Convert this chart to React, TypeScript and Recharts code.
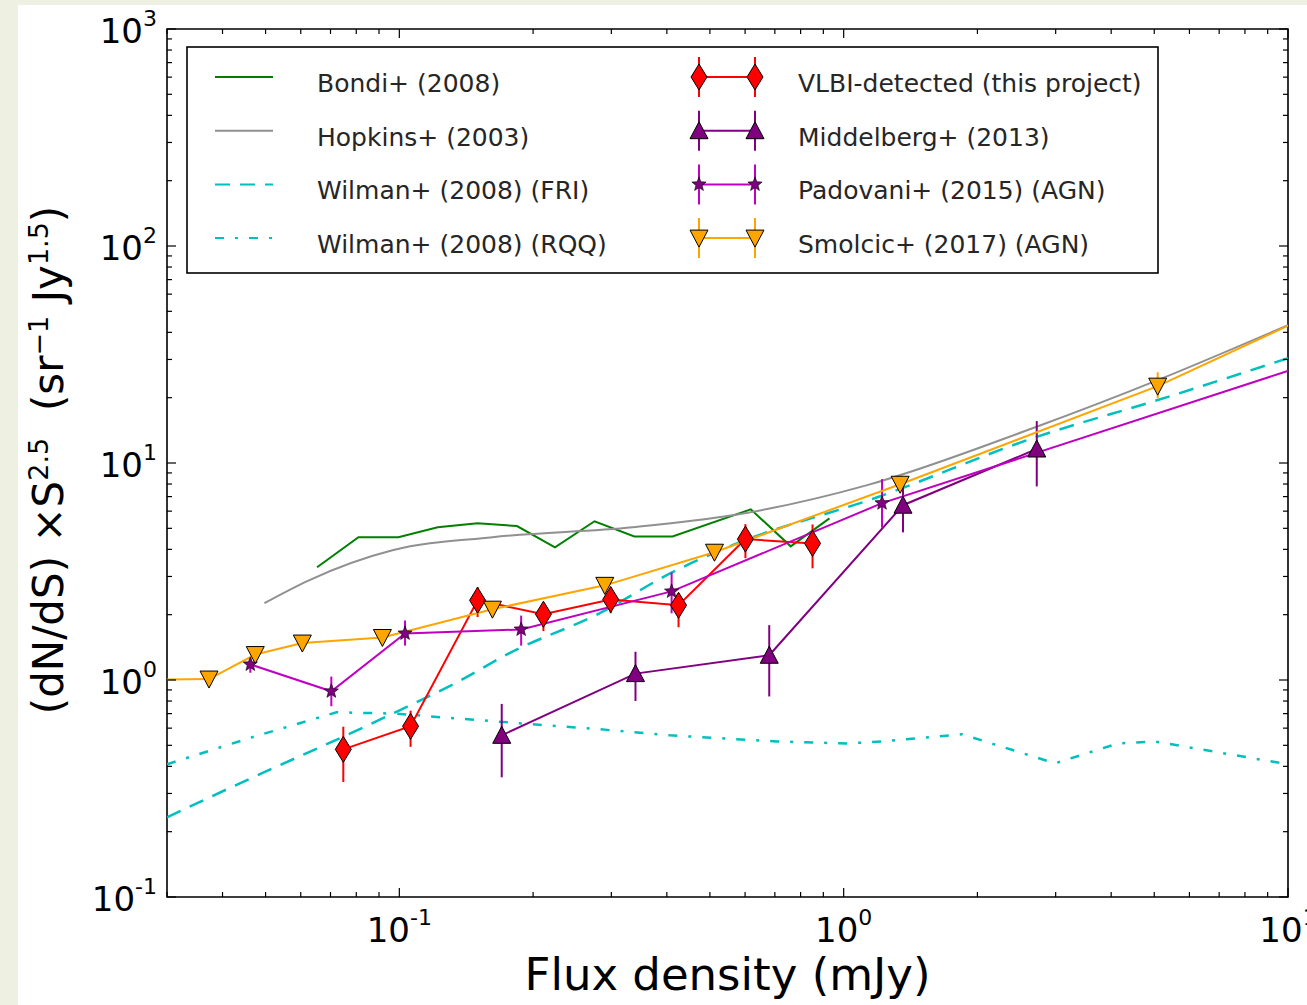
import React from 'react';
import { ComposedChart, Line, XAxis, YAxis, ErrorBar, ReferenceArea } from 'recharts';

const W = 1307;
const H = 1005;
const PLOT = { left: 167, top: 29, right: 1288, bottom: 897 };
const FONT = '"DejaVu Sans", sans-serif';

// --- model curves (flux mJy, normalised counts) ---
const bondiX = [0.0653, 0.0809, 0.0995, 0.122, 0.15, 0.184, 0.224, 0.275, 0.338, 0.412, 0.618, 0.76, 0.929];
const bondiY = [3.31, 4.55, 4.55, 5.06, 5.27, 5.12, 4.09, 5.39, 4.59, 4.59, 6.12, 4.13, 5.56];

const hopkinsX = [0.0497, 0.0626, 0.0965, 0.162, 0.335, 0.562, 1.13, 2.67, 5.09, 10];
const hopkinsY = [2.26, 2.88, 3.96, 4.55, 5.06, 5.74, 7.91, 14.5, 24.1, 43.2];

const friX = [0.03, 0.0418, 0.0916, 0.136, 0.177, 0.282, 0.412, 0.562, 1.19, 2.72, 5.09, 10];
const friY = [0.233, 0.32, 0.665, 0.986, 1.33, 2.03, 3.14, 4.18, 6.95, 13.2, 19.5, 30.4];

const rqqX = [0.03, 0.046, 0.0722, 0.0975, 0.125, 0.162, 0.282, 0.406, 0.706, 1.02, 1.22, 1.85, 2.99, 4.14, 5.01, 10];
const rqqY = [0.409, 0.54, 0.71, 0.7, 0.673, 0.646, 0.593, 0.556, 0.521, 0.51, 0.521, 0.562, 0.413, 0.51, 0.521, 0.409];

// --- measured counts with asymmetric errors [low, high] ---
const vlbiX = [0.0748, 0.106, 0.15, 0.211, 0.299, 0.425, 0.601, 0.851];
const vlbiY = [0.479, 0.612, 2.33, 2.01, 2.35, 2.21, 4.46, 4.26];
const vlbiLo = [0.14, 0.12, 0.38, 0.33, 0.32, 0.46, 0.82, 0.99];
const vlbiHi = [0.13, 0.11, 0.35, 0.23, 0.29, 0.3, 0.77, 0.95];

const midX = [0.17, 0.34, 0.68, 1.36, 2.72];
const midY = [0.556, 1.07, 1.3, 6.39, 11.6];
const midLo = [0.2, 0.27, 0.46, 1.6, 3.8];
const midHi = [0.22, 0.28, 0.49, 2.1, 4.0];

const padX = [0.0462, 0.0703, 0.103, 0.188, 0.41, 1.22, 12];
const padY = [1.18, 0.887, 1.64, 1.71, 2.56, 6.53, 30];
const padLo = [0.1, 0.13, 0.2, 0.27, 0.53, 1.5, 0];
const padHi = [0.09, 0.15, 0.24, 0.27, 0.57, 1.9, 0];

const smoX = [0.025, 0.0373, 0.0474, 0.0605, 0.0916, 0.162, 0.29, 0.512, 1.34, 5.09, 12];
const smoY = [1.0, 1.01, 1.31, 1.48, 1.57, 2.12, 2.73, 3.88, 7.98, 22.6, 51];
const smoLo = [0, 0.06, 0.08, 0.09, 0.1, 0.15, 0.2, 0.3, 0.7, 2.7, 0];
const smoHi = [0, 0.06, 0.09, 0.1, 0.11, 0.17, 0.22, 0.34, 0.8, 3.6, 0];

// --- ticks ---
const X_MAJOR = [0.1, 1, 10];
const X_MINOR = [0.03, 0.04, 0.05, 0.06, 0.07, 0.08, 0.09, 0.2, 0.3, 0.4, 0.5, 0.6, 0.7, 0.8, 0.9, 2, 3, 4, 5, 6, 7, 8, 9];
const Y_MAJOR = [0.1, 1, 10, 100, 1000];
const Y_MINOR = [0.2, 0.3, 0.4, 0.5, 0.6, 0.7, 0.8, 0.9, 2, 3, 4, 5, 6, 7, 8, 9, 20, 30, 40, 50, 60, 70, 80, 90, 200, 300, 400, 500, 600, 700, 800, 900];

const pts = (xs: number[], ys: number[]) => xs.map((x, i) => ({ x, y: ys[i] }));
const ptsErr = (xs: number[], ys: number[], lo: number[], hi: number[]) =>
  xs.map((x, i) => ({ x, y: ys[i], err: [lo[i], hi[i]] }));

const bondi = pts(bondiX, bondiY);
const hopkins = pts(hopkinsX, hopkinsY);
const fri = pts(friX, friY);
const rqq = pts(rqqX, rqqY);
const vlbi = ptsErr(vlbiX, vlbiY, vlbiLo, vlbiHi);
const mid = ptsErr(midX, midY, midLo, midHi);
const pad = ptsErr(padX, padY, padLo, padHi);
const smo = ptsErr(smoX, smoY, smoLo, smoHi);

const RED = '#ff0000';
const PURPLE = '#800080';
const MAGENTA = '#c000c0';
const ORANGE = '#ffa500';
const CYAN = '#00bfbf';
const FRI_DASH = '15 10';
const RQQ_DASH = '9 11 3 11';

// --- marker shapes ---
function diamond(cx: number, cy: number, key?: any) {
  return (
    <polygon key={key} points={`${cx},${cy - 13} ${cx + 8},${cy} ${cx},${cy + 13} ${cx - 8},${cy}`}
      fill={RED} stroke="#000" strokeWidth={1} />
  );
}
function triUp(cx: number, cy: number, key?: any) {
  return (
    <polygon key={key} points={`${cx},${cy - 9} ${cx + 9},${cy + 8} ${cx - 9},${cy + 8}`}
      fill={PURPLE} stroke="#000" strokeWidth={1} />
  );
}
function triDown(cx: number, cy: number, key?: any) {
  return (
    <polygon key={key} points={`${cx},${cy + 9} ${cx + 9},${cy - 8} ${cx - 9},${cy - 8}`}
      fill={ORANGE} stroke="#000" strokeWidth={1} />
  );
}
function star(cx: number, cy: number, key?: any) {
  const p: string[] = [];
  for (let i = 0; i < 10; i++) {
    const r = i % 2 === 0 ? 7.5 : 3.2;
    const a = -Math.PI / 2 + (i * Math.PI) / 5;
    p.push(`${cx + r * Math.cos(a)},${cy + r * Math.sin(a)}`);
  }
  return <polygon key={key} points={p.join(' ')} fill={PURPLE} stroke="#000" strokeWidth={0.6} />;
}

const dotOf = (shape: (cx: number, cy: number, key?: any) => React.ReactElement) => (p: any) => {
  if (p.cx == null || p.cy == null) return <g key={`e-${p.index}`} />;
  return shape(p.cx, p.cy, `m-${p.index}`);
};

// --- tick renderers ---
const expLabel = (v: number) => {
  const e = Math.round(Math.log10(v));
  return e < 0 ? `-${-e}` : `${e}`;
};

const renderXTick = (props: any) => {
  const { x, payload } = props;
  const v = payload.value;
  const major = X_MAJOR.includes(v);
  const len = major ? 9 : 5;
  return (
    <g>
      <line x1={x} x2={x} y1={PLOT.bottom} y2={PLOT.bottom - len} stroke="#000" strokeWidth={1.2} />
      <line x1={x} x2={x} y1={PLOT.top} y2={PLOT.top + len} stroke="#000" strokeWidth={1.2} />
      {major && (
        <text x={x} y={PLOT.bottom + 45} textAnchor="middle" fontSize={34} fontFamily={FONT} fill="#000">
          10<tspan dy={-17} fontSize={22}>{expLabel(v)}</tspan>
        </text>
      )}
    </g>
  );
};

const renderYTick = (props: any) => {
  const { y, payload } = props;
  const v = payload.value;
  const major = Y_MAJOR.includes(v);
  const len = major ? 9 : 5;
  return (
    <g>
      <line x1={PLOT.left} x2={PLOT.left + len} y1={y} y2={y} stroke="#000" strokeWidth={1.2} />
      <line x1={PLOT.right} x2={PLOT.right - len} y1={y} y2={y} stroke="#000" strokeWidth={1.2} />
      {major && (
        <text x={157} y={y + 14} textAnchor="end" fontSize={34} fontFamily={FONT} fill="#000">
          10<tspan dy={-17} fontSize={22}>{expLabel(v)}</tspan>
        </text>
      )}
    </g>
  );
};

// --- legend ---
const LEGEND = [
  { name: 'Bondi+ (2008)', color: '#008000', dash: undefined, marker: null },
  { name: 'Hopkins+ (2003)', color: '#909090', dash: undefined, marker: null },
  { name: 'Wilman+ (2008) (FRI)', color: CYAN, dash: FRI_DASH, marker: null },
  { name: 'Wilman+ (2008) (RQQ)', color: CYAN, dash: RQQ_DASH, marker: null },
  { name: 'VLBI-detected (this project)', color: RED, dash: undefined, marker: diamond },
  { name: 'Middelberg+ (2013)', color: PURPLE, dash: undefined, marker: triUp },
  { name: 'Padovani+ (2015) (AGN)', color: MAGENTA, dash: undefined, marker: star },
  { name: 'Smolcic+ (2017) (AGN)', color: ORANGE, dash: undefined, marker: triDown },
];

function Overlay() {
  return (
    <svg width={W} height={H} style={{ position: 'absolute', left: 0, top: 0, pointerEvents: 'none' }}>
      <rect x={187} y={47} width={971} height={226} fill="#fff" stroke="#000" strokeWidth={1.6} />
      {LEGEND.map((s, i) => {
        const col = Math.floor(i / 4);
        const row = i % 4;
        const y = 77 + row * 53.7;
        const x1 = col === 0 ? 215 : 699;
        const x2 = col === 0 ? 273 : 755;
        const tx = col === 0 ? 317 : 798;
        return (
          <g key={s.name}>
            {s.marker && (
              <>
                <line x1={x1} x2={x1} y1={y - 20} y2={y + 20} stroke={s.color} strokeWidth={2} />
                <line x1={x2} x2={x2} y1={y - 20} y2={y + 20} stroke={s.color} strokeWidth={2} />
              </>
            )}
            <line x1={x1} x2={x2} y1={y} y2={y} stroke={s.color} strokeWidth={2} strokeDasharray={s.dash} />
            {s.marker && s.marker(x1, y)}
            {s.marker && s.marker(x2, y)}
            <text x={tx} y={y + 15} fontSize={25} fontFamily={FONT} fill="#262626">{s.name}</text>
          </g>
        );
      })}
      <text x={(PLOT.left + PLOT.right) / 2} y={990} textAnchor="middle" fontSize={45} fontFamily={FONT} fill="#000">
        Flux density (mJy)
      </text>
      <text x={63} y={460} transform="rotate(-90 63 460)" textAnchor="middle" fontSize={42} fontFamily={FONT} fill="#000">
        (dN/dS) ×S<tspan dy={-15} fontSize={27}>2.5</tspan>
        <tspan dy={15}>{'\u00a0\u00a0'}(sr</tspan>
        <tspan dy={-15} fontSize={27}>−1</tspan>
        <tspan dy={15}>{'\u00a0'}Jy</tspan>
        <tspan dy={-15} fontSize={27}>1.5</tspan>
        <tspan dy={15}>)</tspan>
      </text>
    </svg>
  );
}

export default function App() {
  return (
    <div style={{ position: 'absolute', left: 0, top: 0, width: W, height: H, background: '#eef0e1', overflow: 'hidden' }}>
      <div style={{ position: 'absolute', left: 18, top: 5, right: 0, bottom: 0, background: '#fff' }} />
      <div style={{ position: 'absolute', left: 0, top: 0 }}>
        <ComposedChart width={W} height={H} margin={{ top: PLOT.top, right: W - PLOT.right, bottom: 0, left: 0 }}>
          <XAxis type="number" dataKey="x" scale="log" domain={[0.03, 10]} allowDataOverflow
            ticks={[...X_MINOR, ...X_MAJOR]} interval={0} tick={renderXTick} tickLine={false} axisLine={false}
            height={H - PLOT.bottom} />
          <YAxis type="number" dataKey="y" scale="log" domain={[0.1, 1000]} allowDataOverflow
            ticks={[...Y_MINOR, ...Y_MAJOR]} interval={0} tick={renderYTick} tickLine={false} axisLine={false}
            width={PLOT.left} />

          <Line data={bondi} dataKey="y" stroke="#008000" strokeWidth={2} dot={false} activeDot={false} isAnimationActive={false} />
          <Line data={hopkins} dataKey="y" type="monotone" stroke="#909090" strokeWidth={2} dot={false} activeDot={false} isAnimationActive={false} />
          <Line data={fri} dataKey="y" type="monotone" stroke={CYAN} strokeWidth={2.5} strokeDasharray={FRI_DASH} dot={false} activeDot={false} isAnimationActive={false} />
          <Line data={rqq} dataKey="y" stroke={CYAN} strokeWidth={2.5} strokeDasharray={RQQ_DASH} dot={false} activeDot={false} isAnimationActive={false} />

          <Line data={vlbi} dataKey="y" stroke={RED} strokeWidth={2} dot={dotOf(diamond)} activeDot={false} isAnimationActive={false}>
            <ErrorBar dataKey="err" direction="y" width={0} stroke={RED} strokeWidth={2} />
          </Line>
          <Line data={mid} dataKey="y" stroke={PURPLE} strokeWidth={2} dot={dotOf(triUp)} activeDot={false} isAnimationActive={false}>
            <ErrorBar dataKey="err" direction="y" width={0} stroke={PURPLE} strokeWidth={2} />
          </Line>
          <Line data={pad} dataKey="y" stroke={MAGENTA} strokeWidth={2} dot={dotOf(star)} activeDot={false} isAnimationActive={false}>
            <ErrorBar dataKey="err" direction="y" width={0} stroke={MAGENTA} strokeWidth={2} />
          </Line>
          <Line data={smo} dataKey="y" stroke={ORANGE} strokeWidth={2} dot={dotOf(triDown)} activeDot={false} isAnimationActive={false}>
            <ErrorBar dataKey="err" direction="y" width={0} stroke={ORANGE} strokeWidth={2} />
          </Line>

          <ReferenceArea x1={0.03} x2={10} y1={0.1} y2={1000} fill="none" stroke="#000" strokeWidth={1.6} ifOverflow="visible" />
        </ComposedChart>
      </div>
      <Overlay />
    </div>
  );
}
